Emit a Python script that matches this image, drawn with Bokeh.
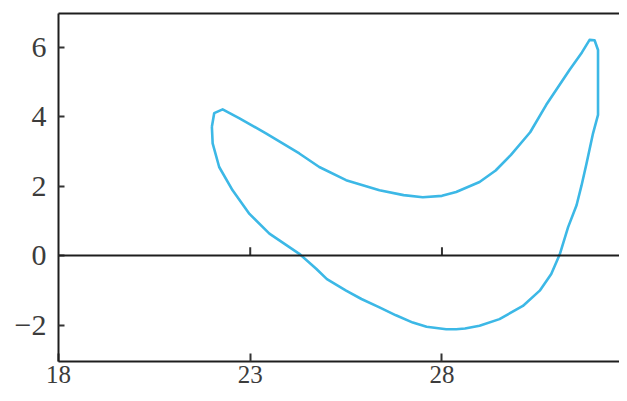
from bokeh.plotting import figure
from bokeh.models import Range1d, FixedTicker, LinearAxis, Span
from bokeh.embed import file_html
from bokeh.resources import INLINE

# Closed loop, traced around (x, y)
loop_x = [22.00, 22.06, 22.28, 22.72, 23.41, 24.28, 24.80, 25.50, 26.37, 27.00,
          27.50, 28.00, 28.37, 28.98, 29.40, 29.80, 30.30, 30.72, 31.33, 31.65, 31.85, 31.98,
          32.07, 32.07, 32.07, 31.94, 31.77, 31.64, 31.51, 31.29, 31.07, 30.85, 30.55, 30.11,
          29.50, 28.98, 28.60, 28.37, 28.11, 27.60, 27.24, 26.80, 26.37, 25.90, 25.50, 25.00,
          24.72, 24.28, 23.50, 22.98, 22.54, 22.19, 22.02, 22.00]
loop_y = [3.71, 4.10, 4.21, 3.95, 3.52, 2.94, 2.55, 2.17, 1.88, 1.74,
          1.68, 1.72, 1.83, 2.12, 2.45, 2.90, 3.55, 4.34, 5.35, 5.85, 6.21, 6.20,
          5.92, 5.00, 4.05, 3.52, 2.65, 2.02, 1.45, 0.82, 0.03, -0.53, -1.01, -1.45,
          -1.83, -2.02, -2.10, -2.12, -2.12, -2.05, -1.93, -1.72, -1.49, -1.25, -1.01, -0.68,
          -0.38, 0.05, 0.63, 1.20, 1.88, 2.55, 3.23, 3.71]

x_ticks = [18, 23, 28]
x_tick_labels = {18: "18", 23: "23", 28: "28"}
y_ticks = [-2, 0, 2, 4, 6]
y_tick_labels = {-2: "\u22122", 0: "0", 2: "2", 4: "4", 6: "6"}

AX = "#1e1e1e"
LBL = "#3c3c3c"
FONT = "Liberation Serif"

p = figure(width=619, height=393, output_backend="svg", toolbar_location=None,
           x_range=Range1d(18, 32.63), y_range=Range1d(-3.05, 6.97),
           min_border_left=58, min_border_right=0, min_border_top=13, min_border_bottom=32)
p.outline_line_color = None
p.grid.visible = False
p.background_fill_color = "white"
p.border_fill_color = "white"

p.xaxis.ticker = FixedTicker(ticks=x_ticks)
p.xaxis.major_label_overrides = x_tick_labels
p.yaxis.ticker = FixedTicker(ticks=y_ticks)
p.yaxis.major_label_overrides = y_tick_labels
for ax in (p.xaxis[0], p.yaxis[0]):
    ax.axis_line_color = AX
    ax.axis_line_width = 2
    ax.major_tick_line_color = "#333333"
    ax.major_tick_line_width = 2
    ax.major_tick_out = 0
    ax.minor_tick_line_color = None
    ax.major_label_text_font = FONT
    ax.major_label_text_color = LBL
p.yaxis.major_label_text_font_size = "30px"
p.xaxis.major_label_text_font_size = "25px"
p.xaxis.major_tick_in = 8
p.yaxis.major_tick_in = 6
p.yaxis.major_label_standoff = 12
p.xaxis.major_label_standoff = 4

# top frame line
top = LinearAxis(ticker=FixedTicker(ticks=[]), axis_line_color=AX, axis_line_width=2,
                 major_tick_in=0, major_tick_out=0, minor_tick_line_color=None,
                 major_label_standoff=0)
p.add_layout(top, "above")

# zero line with ticks
p.add_layout(Span(location=0, dimension="width", line_color=AX, line_width=2))
p.segment(x0=x_ticks[1:], y0=[0] * 2, x1=x_ticks[1:], y1=[0.24] * 2,
          line_color="#333333", line_width=2)

p.line(loop_x, loop_y, line_color="#3cb8e6", line_width=2.6, line_join="round")

open("out.html", "w").write(file_html(p, INLINE))
